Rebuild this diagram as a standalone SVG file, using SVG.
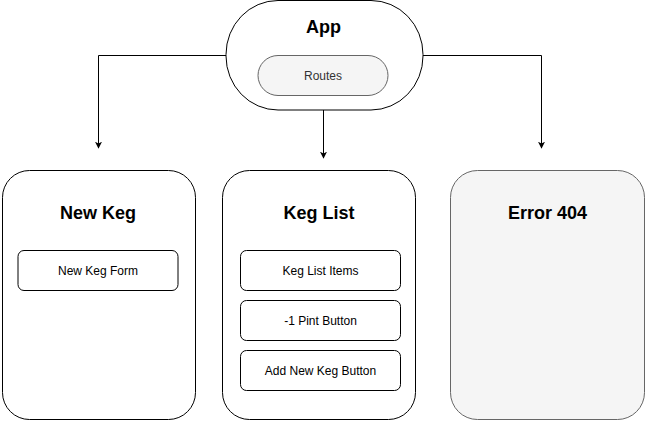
<svg xmlns="http://www.w3.org/2000/svg" width="646" height="421" viewBox="0 0 646 421">
<defs>
<style>
text{font-family:"Liberation Sans",Arial,Helvetica,sans-serif;text-anchor:middle;}
.title{font-size:18px;font-weight:bold;fill:#000;}
.lbl{font-size:12px;fill:#000;}
.box{fill:#fff;stroke:#000;stroke-width:1;}
.grey{fill:#f5f5f5;stroke:#666;stroke-width:1;}
.edge{fill:none;stroke:#000;stroke-width:1;}
</style>
<marker id="arr" viewBox="0 0 10 10" refX="9" refY="5" markerWidth="7" markerHeight="7" markerUnits="userSpaceOnUse" orient="auto">
<path d="M0,0 L10,5 L0,10 L2.5,5 Z" fill="#000"/>
</marker>
</defs>
<rect width="646" height="421" fill="#fff"/>
<g id="connectors">
<path class="edge" d="M226,55.5 H98.5 V148" marker-end="url(#arr)"/>
<path class="edge" d="M323.5,110 V158" marker-end="url(#arr)"/>
<path class="edge" d="M423,55.5 H541.5 V148" marker-end="url(#arr)"/>
</g>
<g id="app">
<rect class="box" x="226" y="0.5" width="197" height="109.5" rx="52" ry="54"/>
<text class="title" x="323.5" y="33">App</text>
</g>
<g id="routes">
<rect class="grey" x="258" y="55.5" width="130" height="40" rx="20" ry="20"/>
<text class="lbl" x="323" y="80" style="fill:#333">Routes</text>
</g>
<g id="new-keg">
<rect class="box" x="2.5" y="170.5" width="193" height="249" rx="27" ry="27"/>
<text class="title" x="98" y="219">New Keg</text>
</g>
<g id="new-keg-form">
<rect class="box" x="18" y="250.5" width="160" height="40" rx="6" ry="6"/>
<text class="lbl" x="98" y="274.5">New Keg Form</text>
</g>
<g id="keg-list">
<rect class="box" x="222.5" y="170.5" width="193" height="249" rx="27" ry="27"/>
<text class="title" x="319" y="219">Keg List</text>
</g>
<g id="keg-list-items">
<rect class="box" x="240.5" y="250.5" width="160" height="40" rx="6" ry="6"/>
<text class="lbl" x="320.5" y="274.5">Keg List Items</text>
</g>
<g id="pint-button">
<rect class="box" x="240.5" y="300.5" width="160" height="40" rx="6" ry="6"/>
<text class="lbl" x="320.5" y="324.5">-1 Pint Button</text>
</g>
<g id="add-keg-button">
<rect class="box" x="240.5" y="350.5" width="160" height="40" rx="6" ry="6"/>
<text class="lbl" x="320.5" y="374.5">Add New Keg Button</text>
</g>
<g id="error-404">
<rect class="grey" x="450.5" y="170.5" width="194" height="249" rx="27" ry="27"/>
<text class="title" x="547.5" y="219">Error 404</text>
</g>
</svg>
